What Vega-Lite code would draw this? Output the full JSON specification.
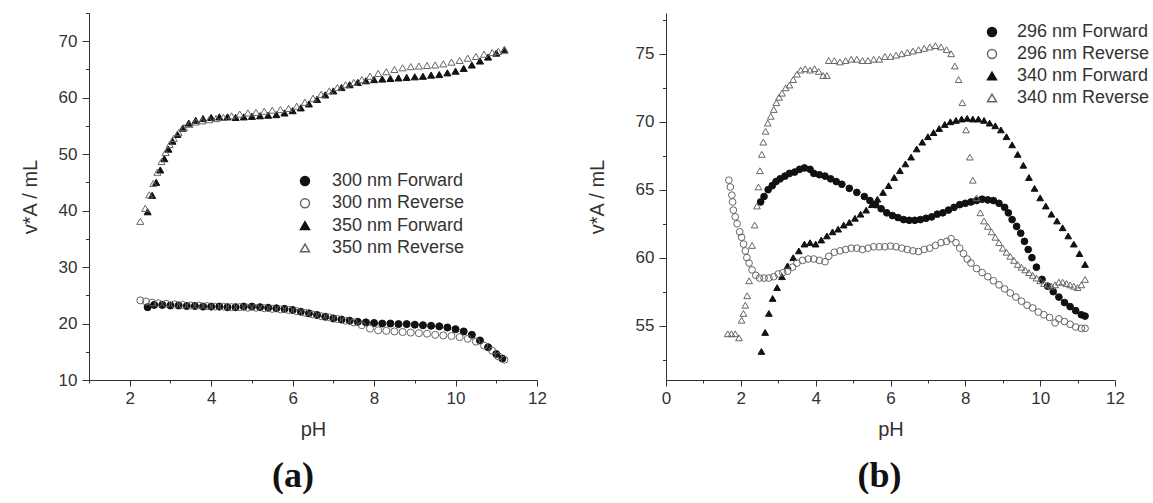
{
"$schema": "https://vega.github.io/schema/vega-lite/v6.json",
"padding": {"left": 20, "top": 4, "right": 0, "bottom": 0},
"background": "white",
"config": {
 "font": "Liberation Sans",
 "view": {"stroke": null},
 "axis": {"grid": false, "domainColor": "#333", "tickColor": "#333", "labelColor": "#333", "titleColor": "#333", "labelFont": "Liberation Sans", "titleFont": "Liberation Sans", "labelFontSize": 17, "titleFontSize": 20, "titleFontWeight": "normal", "labelOverlap": false, "labelFlush": false, "tickSize": 6},
 "legend": {"labelFont": "Liberation Sans", "labelFontSize": 18, "labelColor": "#333"},
 "title": {"orient": "bottom", "font": "Liberation Serif", "fontSize": 36, "fontWeight": "bold", "color": "#111", "offset": 20}
},
"datasets": {
"a": [
{"s":"cF","x":2.44,"y":22.9},{"s":"cF","x":2.6,"y":23.3},{"s":"cF","x":2.8,"y":23.3},{"s":"cF","x":3.0,"y":23.2},{"s":"cF","x":3.2,"y":23.2},{"s":"cF","x":3.4,"y":23.1},{"s":"cF","x":3.6,"y":23.1},{"s":"cF","x":3.8,"y":23.0},{"s":"cF","x":4.0,"y":23.0},{"s":"cF","x":4.2,"y":23.0},{"s":"cF","x":4.4,"y":22.9},{"s":"cF","x":4.6,"y":22.9},{"s":"cF","x":4.8,"y":23.0},{"s":"cF","x":5.0,"y":23.0},{"s":"cF","x":5.2,"y":22.9},{"s":"cF","x":5.4,"y":22.8},{"s":"cF","x":5.6,"y":22.7},{"s":"cF","x":5.8,"y":22.6},{"s":"cF","x":6.0,"y":22.4},{"s":"cF","x":6.2,"y":22.1},{"s":"cF","x":6.4,"y":21.8},{"s":"cF","x":6.6,"y":21.5},{"s":"cF","x":6.8,"y":21.2},{"s":"cF","x":7.0,"y":20.9},{"s":"cF","x":7.2,"y":20.7},{"s":"cF","x":7.4,"y":20.5},{"s":"cF","x":7.6,"y":20.3},{"s":"cF","x":7.8,"y":20.2},{"s":"cF","x":8.0,"y":20.1},{"s":"cF","x":8.2,"y":20.0},{"s":"cF","x":8.4,"y":20.0},{"s":"cF","x":8.6,"y":19.9},{"s":"cF","x":8.8,"y":19.9},{"s":"cF","x":9.0,"y":19.8},{"s":"cF","x":9.2,"y":19.7},{"s":"cF","x":9.4,"y":19.6},{"s":"cF","x":9.6,"y":19.5},{"s":"cF","x":9.8,"y":19.3},{"s":"cF","x":10.0,"y":19.0},{"s":"cF","x":10.2,"y":18.6},{"s":"cF","x":10.4,"y":18.0},{"s":"cF","x":10.6,"y":17.0},{"s":"cF","x":10.8,"y":15.8},{"s":"cF","x":11.0,"y":14.6},{"s":"cF","x":11.15,"y":13.8},
{"s":"tF","x":2.44,"y":39.8},{"s":"tF","x":2.55,"y":42.7},{"s":"tF","x":2.65,"y":45.0},{"s":"tF","x":2.75,"y":47.2},{"s":"tF","x":2.85,"y":49.2},{"s":"tF","x":2.95,"y":50.9},{"s":"tF","x":3.05,"y":52.3},{"s":"tF","x":3.17,"y":53.5},{"s":"tF","x":3.3,"y":54.6},{"s":"tF","x":3.45,"y":55.5},{"s":"tF","x":3.62,"y":56.0},{"s":"tF","x":3.8,"y":56.3},{"s":"tF","x":4.0,"y":56.5},{"s":"tF","x":4.2,"y":56.6},{"s":"tF","x":4.4,"y":56.6},{"s":"tF","x":4.6,"y":56.5},{"s":"tF","x":4.8,"y":56.6},{"s":"tF","x":5.0,"y":56.7},{"s":"tF","x":5.2,"y":56.8},{"s":"tF","x":5.4,"y":56.9},{"s":"tF","x":5.6,"y":57.0},{"s":"tF","x":5.8,"y":57.3},{"s":"tF","x":6.0,"y":57.7},{"s":"tF","x":6.2,"y":58.2},{"s":"tF","x":6.4,"y":58.9},{"s":"tF","x":6.6,"y":59.7},{"s":"tF","x":6.8,"y":60.5},{"s":"tF","x":7.0,"y":61.2},{"s":"tF","x":7.2,"y":61.8},{"s":"tF","x":7.4,"y":62.3},{"s":"tF","x":7.6,"y":62.7},{"s":"tF","x":7.8,"y":63.0},{"s":"tF","x":8.0,"y":63.2},{"s":"tF","x":8.2,"y":63.3},{"s":"tF","x":8.4,"y":63.4},{"s":"tF","x":8.6,"y":63.5},{"s":"tF","x":8.8,"y":63.6},{"s":"tF","x":9.0,"y":63.7},{"s":"tF","x":9.2,"y":63.8},{"s":"tF","x":9.4,"y":64.0},{"s":"tF","x":9.6,"y":64.1},{"s":"tF","x":9.8,"y":64.4},{"s":"tF","x":10.0,"y":64.7},{"s":"tF","x":10.2,"y":65.2},{"s":"tF","x":10.4,"y":65.8},{"s":"tF","x":10.6,"y":66.5},{"s":"tF","x":10.8,"y":67.2},{"s":"tF","x":11.0,"y":67.9},{"s":"tF","x":11.2,"y":68.5},
{"s":"cR","x":2.26,"y":24.1},{"s":"cR","x":2.4,"y":23.9},{"s":"cR","x":2.55,"y":23.7},{"s":"cR","x":2.7,"y":23.6},{"s":"cR","x":2.9,"y":23.5},{"s":"cR","x":3.1,"y":23.4},{"s":"cR","x":3.3,"y":23.3},{"s":"cR","x":3.5,"y":23.2},{"s":"cR","x":3.7,"y":23.2},{"s":"cR","x":3.9,"y":23.1},{"s":"cR","x":4.1,"y":23.0},{"s":"cR","x":4.3,"y":23.0},{"s":"cR","x":4.5,"y":22.9},{"s":"cR","x":4.7,"y":22.9},{"s":"cR","x":4.9,"y":22.8},{"s":"cR","x":5.1,"y":22.8},{"s":"cR","x":5.3,"y":22.7},{"s":"cR","x":5.5,"y":22.6},{"s":"cR","x":5.7,"y":22.5},{"s":"cR","x":5.9,"y":22.4},{"s":"cR","x":6.1,"y":22.2},{"s":"cR","x":6.3,"y":21.9},{"s":"cR","x":6.5,"y":21.6},{"s":"cR","x":6.7,"y":21.3},{"s":"cR","x":6.9,"y":21.1},{"s":"cR","x":7.1,"y":20.8},{"s":"cR","x":7.3,"y":20.5},{"s":"cR","x":7.5,"y":20.2},{"s":"cR","x":7.7,"y":19.7},{"s":"cR","x":7.9,"y":19.1},{"s":"cR","x":8.1,"y":18.8},{"s":"cR","x":8.3,"y":18.7},{"s":"cR","x":8.5,"y":18.6},{"s":"cR","x":8.7,"y":18.5},{"s":"cR","x":8.9,"y":18.4},{"s":"cR","x":9.1,"y":18.3},{"s":"cR","x":9.3,"y":18.2},{"s":"cR","x":9.5,"y":18.0},{"s":"cR","x":9.7,"y":17.9},{"s":"cR","x":9.9,"y":17.8},{"s":"cR","x":10.1,"y":17.6},{"s":"cR","x":10.3,"y":17.3},{"s":"cR","x":10.5,"y":16.8},{"s":"cR","x":10.7,"y":16.1},{"s":"cR","x":10.9,"y":15.2},{"s":"cR","x":11.05,"y":14.2},{"s":"cR","x":11.2,"y":13.6},
{"s":"tR","x":2.26,"y":38.1},{"s":"tR","x":2.38,"y":40.4},{"s":"tR","x":2.48,"y":42.8},{"s":"tR","x":2.58,"y":44.8},{"s":"tR","x":2.68,"y":46.8},{"s":"tR","x":2.78,"y":48.7},{"s":"tR","x":2.88,"y":50.3},{"s":"tR","x":2.98,"y":51.7},{"s":"tR","x":3.08,"y":52.8},{"s":"tR","x":3.2,"y":53.8},{"s":"tR","x":3.33,"y":54.7},{"s":"tR","x":3.47,"y":55.3},{"s":"tR","x":3.62,"y":55.7},{"s":"tR","x":3.78,"y":55.9},{"s":"tR","x":3.95,"y":56.1},{"s":"tR","x":4.12,"y":56.3},{"s":"tR","x":4.3,"y":56.5},{"s":"tR","x":4.5,"y":56.8},{"s":"tR","x":4.7,"y":57.1},{"s":"tR","x":4.9,"y":57.3},{"s":"tR","x":5.1,"y":57.4},{"s":"tR","x":5.3,"y":57.6},{"s":"tR","x":5.5,"y":57.8},{"s":"tR","x":5.7,"y":57.9},{"s":"tR","x":5.9,"y":58.1},{"s":"tR","x":6.1,"y":58.5},{"s":"tR","x":6.3,"y":59.2},{"s":"tR","x":6.5,"y":59.9},{"s":"tR","x":6.7,"y":60.6},{"s":"tR","x":6.9,"y":61.2},{"s":"tR","x":7.1,"y":61.8},{"s":"tR","x":7.3,"y":62.3},{"s":"tR","x":7.5,"y":62.7},{"s":"tR","x":7.7,"y":63.2},{"s":"tR","x":7.9,"y":63.8},{"s":"tR","x":8.1,"y":64.3},{"s":"tR","x":8.3,"y":64.6},{"s":"tR","x":8.5,"y":65.0},{"s":"tR","x":8.7,"y":65.3},{"s":"tR","x":8.9,"y":65.5},{"s":"tR","x":9.1,"y":65.6},{"s":"tR","x":9.3,"y":65.7},{"s":"tR","x":9.5,"y":65.8},{"s":"tR","x":9.7,"y":66.0},{"s":"tR","x":9.9,"y":66.3},{"s":"tR","x":10.1,"y":66.6},{"s":"tR","x":10.3,"y":67.0},{"s":"tR","x":10.5,"y":67.3},{"s":"tR","x":10.7,"y":67.7},{"s":"tR","x":10.9,"y":68.0},{"s":"tR","x":11.05,"y":68.2},{"s":"tR","x":11.2,"y":68.4}
],
"b": [
{"s":"cF","x":2.53,"y":64.1},{"s":"cF","x":2.62,"y":64.5},{"s":"cF","x":2.73,"y":65.0},{"s":"cF","x":2.84,"y":65.3},{"s":"cF","x":2.94,"y":65.6},{"s":"cF","x":3.05,"y":65.8},{"s":"cF","x":3.18,"y":66.0},{"s":"cF","x":3.3,"y":66.2},{"s":"cF","x":3.44,"y":66.3},{"s":"cF","x":3.57,"y":66.5},{"s":"cF","x":3.7,"y":66.6},{"s":"cF","x":3.85,"y":66.5},{"s":"cF","x":3.95,"y":66.2},{"s":"cF","x":4.1,"y":66.1},{"s":"cF","x":4.25,"y":66.0},{"s":"cF","x":4.4,"y":65.8},{"s":"cF","x":4.55,"y":65.6},{"s":"cF","x":4.7,"y":65.4},{"s":"cF","x":4.9,"y":65.1},{"s":"cF","x":5.1,"y":64.8},{"s":"cF","x":5.3,"y":64.5},{"s":"cF","x":5.45,"y":64.2},{"s":"cF","x":5.6,"y":63.9},{"s":"cF","x":5.75,"y":63.6},{"s":"cF","x":5.9,"y":63.3},{"s":"cF","x":6.05,"y":63.1},{"s":"cF","x":6.2,"y":62.95},{"s":"cF","x":6.35,"y":62.8},{"s":"cF","x":6.5,"y":62.75},{"s":"cF","x":6.65,"y":62.75},{"s":"cF","x":6.8,"y":62.8},{"s":"cF","x":6.95,"y":62.9},{"s":"cF","x":7.1,"y":63.0},{"s":"cF","x":7.25,"y":63.2},{"s":"cF","x":7.4,"y":63.3},{"s":"cF","x":7.55,"y":63.5},{"s":"cF","x":7.7,"y":63.7},{"s":"cF","x":7.85,"y":63.9},{"s":"cF","x":8.0,"y":64.0},{"s":"cF","x":8.15,"y":64.1},{"s":"cF","x":8.3,"y":64.2},{"s":"cF","x":8.45,"y":64.3},{"s":"cF","x":8.6,"y":64.25},{"s":"cF","x":8.75,"y":64.2},{"s":"cF","x":8.9,"y":64.0},{"s":"cF","x":9.05,"y":63.7},{"s":"cF","x":9.15,"y":63.3},{"s":"cF","x":9.25,"y":62.8},{"s":"cF","x":9.37,"y":62.3},{"s":"cF","x":9.48,"y":61.8},{"s":"cF","x":9.58,"y":61.2},{"s":"cF","x":9.68,"y":60.6},{"s":"cF","x":9.78,"y":60.0},{"s":"cF","x":9.9,"y":59.3},{"s":"cF","x":10.05,"y":58.4},{"s":"cF","x":10.2,"y":57.9},{"s":"cF","x":10.35,"y":57.5},{"s":"cF","x":10.5,"y":57.1},{"s":"cF","x":10.65,"y":56.7},{"s":"cF","x":10.8,"y":56.4},{"s":"cF","x":10.95,"y":56.1},{"s":"cF","x":11.1,"y":55.8},{"s":"cF","x":11.2,"y":55.7},
{"s":"tF","x":2.55,"y":53.1},{"s":"tF","x":2.65,"y":54.5},{"s":"tF","x":2.75,"y":55.9},{"s":"tF","x":2.85,"y":57.0},{"s":"tF","x":2.97,"y":57.8},{"s":"tF","x":3.1,"y":58.6},{"s":"tF","x":3.25,"y":59.4},{"s":"tF","x":3.4,"y":60.0},{"s":"tF","x":3.55,"y":60.5},{"s":"tF","x":3.7,"y":61.0},{"s":"tF","x":3.85,"y":61.1},{"s":"tF","x":4.0,"y":61.0},{"s":"tF","x":4.15,"y":61.3},{"s":"tF","x":4.3,"y":61.6},{"s":"tF","x":4.45,"y":61.9},{"s":"tF","x":4.6,"y":62.1},{"s":"tF","x":4.75,"y":62.4},{"s":"tF","x":4.9,"y":62.6},{"s":"tF","x":5.05,"y":62.9},{"s":"tF","x":5.2,"y":63.2},{"s":"tF","x":5.35,"y":63.5},{"s":"tF","x":5.5,"y":63.9},{"s":"tF","x":5.65,"y":64.3},{"s":"tF","x":5.8,"y":64.8},{"s":"tF","x":5.95,"y":65.3},{"s":"tF","x":6.1,"y":65.9},{"s":"tF","x":6.25,"y":66.4},{"s":"tF","x":6.4,"y":66.9},{"s":"tF","x":6.55,"y":67.4},{"s":"tF","x":6.7,"y":68.0},{"s":"tF","x":6.85,"y":68.5},{"s":"tF","x":7.0,"y":68.9},{"s":"tF","x":7.15,"y":69.2},{"s":"tF","x":7.3,"y":69.5},{"s":"tF","x":7.45,"y":69.8},{"s":"tF","x":7.6,"y":70.0},{"s":"tF","x":7.75,"y":70.1},{"s":"tF","x":7.9,"y":70.2},{"s":"tF","x":8.05,"y":70.25},{"s":"tF","x":8.2,"y":70.2},{"s":"tF","x":8.35,"y":70.2},{"s":"tF","x":8.5,"y":70.1},{"s":"tF","x":8.65,"y":69.9},{"s":"tF","x":8.8,"y":69.7},{"s":"tF","x":8.95,"y":69.4},{"s":"tF","x":9.1,"y":68.9},{"s":"tF","x":9.25,"y":68.3},{"s":"tF","x":9.4,"y":67.6},{"s":"tF","x":9.55,"y":66.8},{"s":"tF","x":9.7,"y":65.9},{"s":"tF","x":9.85,"y":65.1},{"s":"tF","x":10.0,"y":64.4},{"s":"tF","x":10.15,"y":63.8},{"s":"tF","x":10.3,"y":63.2},{"s":"tF","x":10.45,"y":62.7},{"s":"tF","x":10.6,"y":62.2},{"s":"tF","x":10.75,"y":61.6},{"s":"tF","x":10.9,"y":61.0},{"s":"tF","x":11.05,"y":60.3},{"s":"tF","x":11.2,"y":59.5},
{"s":"cR","x":1.68,"y":65.7},{"s":"cR","x":1.72,"y":65.2},{"s":"cR","x":1.76,"y":64.6},{"s":"cR","x":1.78,"y":64.1},{"s":"cR","x":1.8,"y":63.5},{"s":"cR","x":1.85,"y":63.0},{"s":"cR","x":1.9,"y":62.5},{"s":"cR","x":1.97,"y":61.9},{"s":"cR","x":2.02,"y":61.5},{"s":"cR","x":2.07,"y":61.0},{"s":"cR","x":2.12,"y":60.5},{"s":"cR","x":2.16,"y":60.0},{"s":"cR","x":2.22,"y":59.6},{"s":"cR","x":2.3,"y":59.1},{"s":"cR","x":2.4,"y":58.7},{"s":"cR","x":2.5,"y":58.5},{"s":"cR","x":2.62,"y":58.5},{"s":"cR","x":2.75,"y":58.5},{"s":"cR","x":2.88,"y":58.6},{"s":"cR","x":3.0,"y":58.8},{"s":"cR","x":3.12,"y":58.9},{"s":"cR","x":3.25,"y":59.0},{"s":"cR","x":3.38,"y":59.3},{"s":"cR","x":3.5,"y":59.6},{"s":"cR","x":3.65,"y":59.8},{"s":"cR","x":3.8,"y":59.9},{"s":"cR","x":3.95,"y":59.9},{"s":"cR","x":4.1,"y":59.8},{"s":"cR","x":4.25,"y":59.7},{"s":"cR","x":4.35,"y":60.1},{"s":"cR","x":4.5,"y":60.4},{"s":"cR","x":4.65,"y":60.5},{"s":"cR","x":4.8,"y":60.6},{"s":"cR","x":4.95,"y":60.7},{"s":"cR","x":5.1,"y":60.7},{"s":"cR","x":5.25,"y":60.6},{"s":"cR","x":5.4,"y":60.7},{"s":"cR","x":5.55,"y":60.8},{"s":"cR","x":5.7,"y":60.8},{"s":"cR","x":5.85,"y":60.8},{"s":"cR","x":6.0,"y":60.85},{"s":"cR","x":6.15,"y":60.8},{"s":"cR","x":6.3,"y":60.7},{"s":"cR","x":6.45,"y":60.6},{"s":"cR","x":6.6,"y":60.5},{"s":"cR","x":6.75,"y":60.45},{"s":"cR","x":6.9,"y":60.6},{"s":"cR","x":7.05,"y":60.7},{"s":"cR","x":7.2,"y":60.9},{"s":"cR","x":7.35,"y":61.1},{"s":"cR","x":7.5,"y":61.2},{"s":"cR","x":7.62,"y":61.4},{"s":"cR","x":7.75,"y":61.1},{"s":"cR","x":7.85,"y":60.7},{"s":"cR","x":7.95,"y":60.3},{"s":"cR","x":8.05,"y":59.9},{"s":"cR","x":8.15,"y":59.6},{"s":"cR","x":8.3,"y":59.2},{"s":"cR","x":8.45,"y":58.9},{"s":"cR","x":8.6,"y":58.6},{"s":"cR","x":8.75,"y":58.3},{"s":"cR","x":8.9,"y":58.0},{"s":"cR","x":9.05,"y":57.7},{"s":"cR","x":9.2,"y":57.4},{"s":"cR","x":9.35,"y":57.1},{"s":"cR","x":9.5,"y":56.8},{"s":"cR","x":9.65,"y":56.5},{"s":"cR","x":9.8,"y":56.3},{"s":"cR","x":9.95,"y":56.0},{"s":"cR","x":10.1,"y":55.8},{"s":"cR","x":10.25,"y":55.6},{"s":"cR","x":10.4,"y":55.2},{"s":"cR","x":10.5,"y":55.5},{"s":"cR","x":10.65,"y":55.3},{"s":"cR","x":10.8,"y":55.1},{"s":"cR","x":10.95,"y":54.9},{"s":"cR","x":11.1,"y":54.8},{"s":"cR","x":11.2,"y":54.8},
{"s":"tR","x":1.65,"y":54.4},{"s":"tR","x":1.75,"y":54.4},{"s":"tR","x":1.85,"y":54.4},{"s":"tR","x":1.95,"y":54.1},{"s":"tR","x":2.02,"y":55.4},{"s":"tR","x":2.07,"y":55.9},{"s":"tR","x":2.12,"y":56.5},{"s":"tR","x":2.17,"y":57.2},{"s":"tR","x":2.22,"y":58.3},{"s":"tR","x":2.3,"y":60.9},{"s":"tR","x":2.37,"y":62.4},{"s":"tR","x":2.43,"y":63.8},{"s":"tR","x":2.47,"y":65.2},{"s":"tR","x":2.51,"y":66.4},{"s":"tR","x":2.56,"y":67.6},{"s":"tR","x":2.6,"y":68.5},{"s":"tR","x":2.66,"y":69.3},{"s":"tR","x":2.72,"y":69.9},{"s":"tR","x":2.8,"y":70.4},{"s":"tR","x":2.88,"y":70.9},{"s":"tR","x":2.95,"y":71.4},{"s":"tR","x":3.02,"y":71.8},{"s":"tR","x":3.1,"y":72.1},{"s":"tR","x":3.2,"y":72.5},{"s":"tR","x":3.3,"y":72.7},{"s":"tR","x":3.4,"y":73.1},{"s":"tR","x":3.5,"y":73.5},{"s":"tR","x":3.6,"y":73.8},{"s":"tR","x":3.72,"y":73.9},{"s":"tR","x":3.85,"y":73.8},{"s":"tR","x":3.97,"y":73.9},{"s":"tR","x":4.08,"y":73.7},{"s":"tR","x":4.2,"y":73.4},{"s":"tR","x":4.3,"y":73.4},{"s":"tR","x":4.35,"y":74.5},{"s":"tR","x":4.5,"y":74.5},{"s":"tR","x":4.65,"y":74.4},{"s":"tR","x":4.8,"y":74.5},{"s":"tR","x":4.95,"y":74.6},{"s":"tR","x":5.1,"y":74.6},{"s":"tR","x":5.25,"y":74.5},{"s":"tR","x":5.4,"y":74.5},{"s":"tR","x":5.55,"y":74.6},{"s":"tR","x":5.7,"y":74.6},{"s":"tR","x":5.85,"y":74.8},{"s":"tR","x":6.0,"y":74.8},{"s":"tR","x":6.15,"y":74.9},{"s":"tR","x":6.3,"y":75.0},{"s":"tR","x":6.45,"y":75.1},{"s":"tR","x":6.6,"y":75.2},{"s":"tR","x":6.75,"y":75.3},{"s":"tR","x":6.9,"y":75.4},{"s":"tR","x":7.05,"y":75.5},{"s":"tR","x":7.2,"y":75.6},{"s":"tR","x":7.35,"y":75.5},{"s":"tR","x":7.5,"y":75.3},{"s":"tR","x":7.62,"y":75.0},{"s":"tR","x":7.72,"y":74.1},{"s":"tR","x":7.82,"y":73.1},{"s":"tR","x":7.92,"y":71.4},{"s":"tR","x":8.02,"y":69.4},{"s":"tR","x":8.12,"y":67.4},{"s":"tR","x":8.2,"y":65.7},{"s":"tR","x":8.3,"y":64.4},{"s":"tR","x":8.4,"y":63.3},{"s":"tR","x":8.5,"y":62.7},{"s":"tR","x":8.6,"y":62.3},{"s":"tR","x":8.7,"y":61.9},{"s":"tR","x":8.8,"y":61.5},{"s":"tR","x":8.9,"y":61.1},{"s":"tR","x":9.0,"y":60.7},{"s":"tR","x":9.1,"y":60.4},{"s":"tR","x":9.2,"y":60.1},{"s":"tR","x":9.3,"y":59.8},{"s":"tR","x":9.4,"y":59.5},{"s":"tR","x":9.5,"y":59.3},{"s":"tR","x":9.6,"y":59.1},{"s":"tR","x":9.7,"y":58.9},{"s":"tR","x":9.8,"y":58.7},{"s":"tR","x":9.9,"y":58.5},{"s":"tR","x":10.0,"y":58.3},{"s":"tR","x":10.1,"y":58.1},{"s":"tR","x":10.2,"y":58.0},{"s":"tR","x":10.3,"y":57.9},{"s":"tR","x":10.4,"y":58.0},{"s":"tR","x":10.5,"y":58.2},{"s":"tR","x":10.6,"y":58.2},{"s":"tR","x":10.7,"y":58.1},{"s":"tR","x":10.8,"y":58.0},{"s":"tR","x":10.9,"y":57.9},{"s":"tR","x":11.0,"y":57.8},{"s":"tR","x":11.1,"y":58.0},{"s":"tR","x":11.2,"y":58.4}
]
},
"spacing": 40,
"hconcat": [
{
 "width": 448, "height": 367,
 "data": {"name": "a"},
 "title": {"text": "(a)", "dx": -20},
 "mark": {"type": "point", "size": 50, "strokeWidth": 1, "opacity": 1},
 "encoding": {
  "x": {"field": "x", "type": "quantitative", "scale": {"domain": [1, 12], "nice": false, "zero": false},
   "axis": {"title": "pH", "values": [1,2,3,4,5,6,7,8,9,10,11,12], "labelExpr": "datum.value % 2 === 0 ? datum.label : ''", "tickSize": {"condition": {"test": "datum.value % 2 === 0", "value": 6}, "value": 3}, "labelPadding": 4, "titlePadding": 13}},
  "y": {"field": "y", "type": "quantitative", "scale": {"domain": [10, 75], "nice": false, "zero": false},
   "axis": {"title": "v*A / mL", "values": [10,15,20,25,30,35,40,45,50,55,60,65,70,75], "labelExpr": "datum.value % 10 === 0 ? datum.label : ''", "tickSize": {"condition": {"test": "datum.value % 10 === 0", "value": 7}, "value": 3.5}, "labelPadding": 5, "titlePadding": 18}},
  "shape": {"field": "s", "type": "nominal", "scale": {"domain": ["cF","cR","tF","tR"], "range": ["circle","circle","triangle-up","triangle-up"]},
   "legend": {"orient": "none", "legendX": 207, "legendY": 159, "title": null, "padding": 0, "symbolSize": 80, "rowPadding": 4.3, "labelOffset": 18, "labelExpr": "datum.label == 'cF' ? '300 nm Forward' : datum.label == 'cR' ? '300 nm Reverse' : datum.label == 'tF' ? '350 nm Forward' : '350 nm Reverse'"}},
  "fill": {"field": "s", "type": "nominal", "scale": {"domain": ["cF","cR","tF","tR"], "range": ["#111","transparent","#111","transparent"]},
   "legend": {"orient": "none", "legendX": 207, "legendY": 159, "title": null, "padding": 0, "symbolSize": 80, "rowPadding": 4.3, "labelOffset": 18, "labelExpr": "datum.label == 'cF' ? '300 nm Forward' : datum.label == 'cR' ? '300 nm Reverse' : datum.label == 'tF' ? '350 nm Forward' : '350 nm Reverse'"}},
  "stroke": {"field": "s", "type": "nominal", "scale": {"domain": ["cF","cR","tF","tR"], "range": ["#111","#666","#111","#666"]},
   "legend": {"orient": "none", "legendX": 207, "legendY": 159, "title": null, "padding": 0, "symbolSize": 80, "rowPadding": 4.3, "labelOffset": 18, "labelExpr": "datum.label == 'cF' ? '300 nm Forward' : datum.label == 'cR' ? '300 nm Reverse' : datum.label == 'tF' ? '350 nm Forward' : '350 nm Reverse'"}}
 }
},
{
 "width": 449, "height": 367,
 "data": {"name": "b"},
 "title": {"text": "(b)", "dx": -11},
 "mark": {"type": "point", "size": 45, "strokeWidth": 1, "opacity": 1},
 "encoding": {
  "x": {"field": "x", "type": "quantitative", "scale": {"domain": [0, 12], "nice": false, "zero": false},
   "axis": {"title": "pH", "values": [0,1,2,3,4,5,6,7,8,9,10,11,12], "labelExpr": "datum.value % 2 === 0 ? datum.label : ''", "tickSize": {"condition": {"test": "datum.value % 2 === 0", "value": 6}, "value": 3}, "labelPadding": 4, "titlePadding": 13}},
  "y": {"field": "y", "type": "quantitative", "scale": {"domain": [51, 78], "nice": false, "zero": false},
   "axis": {"title": "v*A / mL", "values": [52.5,55,57.5,60,62.5,65,67.5,70,72.5,75,77.5], "labelExpr": "datum.value % 5 === 0 ? datum.label : ''", "tickSize": {"condition": {"test": "datum.value % 5 === 0", "value": 7}, "value": 3.5}, "labelPadding": 5, "titlePadding": 28}},
  "shape": {"field": "s", "type": "nominal", "scale": {"domain": ["cF","cR","tF","tR"], "range": ["circle","circle","triangle-up","triangle-up"]},
   "legend": {"orient": "none", "legendX": 317, "legendY": 10, "title": null, "padding": 0, "symbolSize": 80, "rowPadding": 4, "labelOffset": 16, "labelExpr": "datum.label == 'cF' ? '296 nm Forward' : datum.label == 'cR' ? '296 nm Reverse' : datum.label == 'tF' ? '340 nm Forward' : '340 nm Reverse'"}},
  "fill": {"field": "s", "type": "nominal", "scale": {"domain": ["cF","cR","tF","tR"], "range": ["#111","transparent","#111","transparent"]},
   "legend": {"orient": "none", "legendX": 317, "legendY": 10, "title": null, "padding": 0, "symbolSize": 80, "rowPadding": 4, "labelOffset": 16, "labelExpr": "datum.label == 'cF' ? '296 nm Forward' : datum.label == 'cR' ? '296 nm Reverse' : datum.label == 'tF' ? '340 nm Forward' : '340 nm Reverse'"}},
  "stroke": {"field": "s", "type": "nominal", "scale": {"domain": ["cF","cR","tF","tR"], "range": ["#111","#666","#111","#666"]},
   "legend": {"orient": "none", "legendX": 317, "legendY": 10, "title": null, "padding": 0, "symbolSize": 80, "rowPadding": 4, "labelOffset": 16, "labelExpr": "datum.label == 'cF' ? '296 nm Forward' : datum.label == 'cR' ? '296 nm Reverse' : datum.label == 'tF' ? '340 nm Forward' : '340 nm Reverse'"}}
 }
}
],
"resolve": {"scale": {"shape": "independent", "fill": "independent", "stroke": "independent"}, "legend": {"shape": "independent", "fill": "independent", "stroke": "independent"}}
}
